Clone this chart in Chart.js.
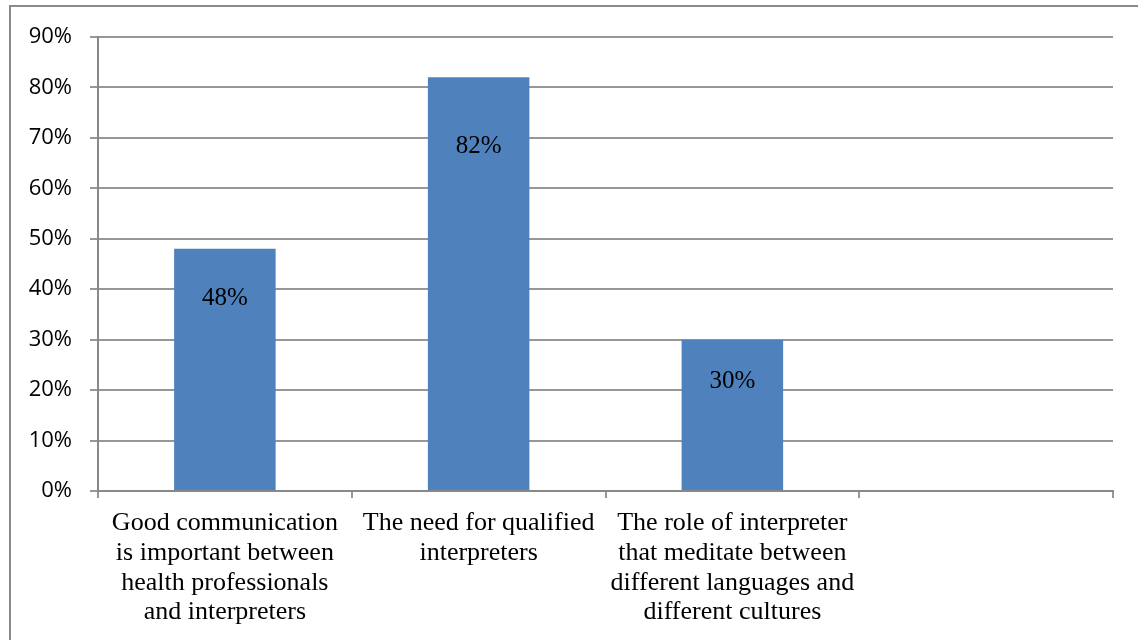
<!DOCTYPE html>
<html>
<head>
<meta charset="utf-8">
<script src="https://cdn.jsdelivr.net/npm/chart.js@4/dist/chart.umd.min.js"></script>
<style>
  html, body { margin: 0; padding: 0; background: #fff; }
  #wrap { position: relative; width: 1138px; height: 640px; overflow: hidden; }
  #frame {
    position: absolute; left: 9px; top: 5px; width: 1200px; height: 700px;
    border-left: 2px solid #8a8a8a; border-top: 2px solid #8a8a8a;
    pointer-events: none;
  }
  canvas { position: absolute; left: 0; top: 0; }
</style>
</head>
<body>
<div id="wrap">
  <canvas id="chart" width="1138" height="640"></canvas>
  <div id="frame"></div>
</div>
<script>
// categories (last slot is empty, as in the workbook)
const categories = [
  ["Good communication", "is important between", "health professionals", "and interpreters"],
  ["The need for qualified", "interpreters"],
  ["The role of interpreter", "that meditate between", "different languages and", "different cultures"],
  ""
];
const shares = [0.48, 0.82, 0.30, null];
const valueLabels = ["48%", "82%", "30%", ""];
// distance of each value label below the top of its bar
const labelDrop = [50, 69, 42, 0];

const gridGray = "#979797";

const valueLabelPlugin = {
  id: "valueLabels",
  afterDatasetsDraw(chart) {
    const ctx = chart.ctx;
    const meta = chart.getDatasetMeta(0);
    ctx.save();
    ctx.font = "25px 'Liberation Serif', 'Times New Roman', serif";
    ctx.fillStyle = "#000";
    ctx.textAlign = "center";
    ctx.textBaseline = "middle";
    meta.data.forEach((bar, i) => {
      if (shares[i] == null) return;
      ctx.fillText(valueLabels[i], bar.x, bar.y + labelDrop[i]);
    });
    ctx.restore();
  }
};

new Chart(document.getElementById("chart"), {
  type: "bar",
  data: {
    labels: categories,
    datasets: [{
      data: shares,
      backgroundColor: "#4f81bd",
      borderWidth: 0,
      categoryPercentage: 1,
      barPercentage: 0.4
    }]
  },
  options: {
    responsive: false,
    animation: false,
    layout: { padding: { left: 0, top: 37, right: 25, bottom: 0 } },
    plugins: {
      legend: { display: false },
      tooltip: { enabled: false }
    },
    scales: {
      x: {
        grid: {
          offset: true,
          drawOnChartArea: false,
          drawTicks: true,
          tickLength: 7,
          color: gridGray,
          lineWidth: 2
        },
        border: { display: true, color: "#888", width: 2 },
        ticks: {
          color: "#000",
          padding: 10,
          maxRotation: 0,
          autoSkip: false,
          font: { family: "'Liberation Serif', 'Times New Roman', serif", size: 26, lineHeight: 1.15 }
        },
        afterFit(scale) { scale.height = 149; }
      },
      y: {
        min: 0,
        max: 0.9,
        grid: {
          color: gridGray,
          lineWidth: 2,
          drawTicks: true,
          tickLength: 8
        },
        border: { display: true, color: "#888", width: 2 },
        ticks: {
          stepSize: 0.1,
          color: "#000",
          padding: 18,
          font: { family: "'Open Sans', sans-serif", size: 22 },
          callback: (v) => Math.round(v * 100) + "%"
        },
        afterFit(scale) { scale.width = 98; }
      }
    }
  },
  plugins: [valueLabelPlugin]
});
</script>
</body>
</html>
